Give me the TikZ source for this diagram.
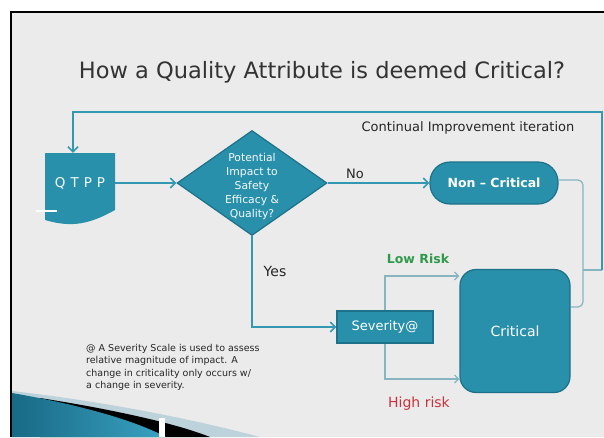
\documentclass[tikz,border=0pt]{standalone}
\usepackage{fontspec}
\setmainfont{DejaVu Sans}
\usetikzlibrary{shapes.geometric,arrows.meta,calc}
\pgfdeclarelayer{back}
\pgfdeclarelayer{wires}
\pgfsetlayers{back,wires,main}
\definecolor{bg}{HTML}{EBEBEB}
\definecolor{tealfill}{HTML}{2990AB}
\definecolor{tealedge}{HTML}{1D7189}
\definecolor{tealline}{HTML}{3398B2}
\definecolor{thinline}{HTML}{86B4C0}
\definecolor{lowgreen}{HTML}{2E9A4A}
\definecolor{highred}{HTML}{C8323C}
\definecolor{titlegray}{HTML}{333333}
\definecolor{swdark}{HTML}{186A85}
\definecolor{swmid}{HTML}{3AA2C2}
\definecolor{swlight}{HTML}{BCD3DC}
\begin{document}
\begin{tikzpicture}[x=1pt,y=-1pt,
  box/.style={fill=tealfill,draw=tealedge,line width=1.2pt,text=white},
  mainline/.style={draw=tealline,line width=2pt,-{Straight Barb[length=5pt,width=10pt,line width=1.6pt]}},
  thinarrow/.style={draw=thinline,line width=1.2pt,-{Straight Barb[length=4pt,width=8pt,line width=1.2pt]}},
  thin/.style={draw=thinline,line width=1.2pt},
  lbl/.style={text=black!85}
]
\useasboundingbox (0,0) rectangle (604,437);
\begin{pgfonlayer}{back}
\fill[white] (0,0) rectangle (604,437);
\fill[bg] (12,13) rectangle (604,437);
\draw[black,line width=2pt] (11,437) -- (11,12) -- (604,12);
% bottom-left swoosh
\fill[swlight] (12,391) .. controls (110,402) and (200,421) .. (260,437) -- (12,437) -- cycle;
\fill[black] (40,398) .. controls (110,409) and (175,423) .. (210,437) -- (40,437) -- cycle;
\shade[left color=swdark,right color=swmid]
  (12,393) .. controls (70,403) and (130,418) .. (166,437) -- (12,437) -- cycle;
\fill[white] (159,418) rectangle (165,437);
\end{pgfonlayer}

% title
\node[text=titlegray,font=\fontsize{22.5}{26}\selectfont] (title) at (322,72) {How a Quality Attribute is deemed Critical?};

% QTPP document shape
\fill[tealfill] (45,153) -- (115,153) -- (115,210) .. controls (90,224) and (72,228) .. (45,220) -- cycle;
\node[minimum width=70pt,minimum height=60pt,inner sep=0pt,text=white!95!tealfill,font=\fontsize{13.5}{16}\selectfont] (qtpp) at (80,183) {Q\hspace{5pt}T\hspace{5pt}P\hspace{5pt}P};
\draw[white,line width=1.5pt] (36,211) -- (57,211);

% diamond
\node[diamond,box,aspect=1.43,minimum width=150pt,minimum height=105pt,inner sep=0pt] (dec) at (252,183) {};
\node[align=center,text=white!95!tealfill,inner sep=0pt,font=\fontsize{10.8}{14}\selectfont] (dectext) at (252,187)
  {Potential\\Impact to\\Safety\\Efficacy \&\\Quality?};

% non-critical
\node[box,rounded corners=20pt,minimum width=128pt,minimum height=42pt,
  font=\bfseries\fontsize{12.5}{14}\selectfont] (nc) at (494,183) {Non -- Critical};

% severity
\node[box,minimum width=96pt,minimum height=32pt,inner sep=0pt,font=\fontsize{13}{15}\selectfont] (sev) at (385,327) {Severity@};

% critical
\node[box,rounded corners=16pt,minimum width=110pt,minimum height=123pt,font=\fontsize{14}{16}\selectfont] (crit) at (515,331) {Critical};

% labels
\node[lbl,font=\fontsize{13}{15}\selectfont] (nolbl) at (355,174) {No};
\node[lbl,font=\fontsize{14}{16}\selectfont] (yeslbl) at (275,271) {Yes};
\node[text=lowgreen,font=\bfseries\fontsize{12.5}{14}\selectfont] (low) at (418,259) {Low Risk};
\node[text=highred,font=\fontsize{14}{16}\selectfont] (high) at (419,404) {High risk};
\node[lbl,font=\fontsize{13}{15}\selectfont] (cont) at (468,128) {Continual Improvement iteration};
\node[anchor=north west,align=left,inner sep=0pt,text=black!85,font=\fontsize{9.5}{12.5}\selectfont] (note) at (86,344)
  {@ A Severity Scale is used to assess\\relative magnitude of impact. A\\change in criticality only occurs w/\\a change in severity.};

% connectors
\coordinate (J) at (602,270);
\coordinate (M) at (583,270);
\begin{pgfonlayer}{wires}
\draw[mainline] (qtpp.east) -- (dec.west);
\draw[mainline] (dec.east) -- (nc.west);
\draw[mainline] (dec.south) |- (sev.west);
\draw[thinarrow] (sev.center) |- ([yshift=-48pt]crit.west);
\draw[thinarrow] (sev.center) |- ([yshift=55pt]crit.west);
\draw[thin,rounded corners=5pt] ([yshift=3pt]nc.east) -| (M);
\draw[thin,rounded corners=5pt] ([yshift=24pt]crit.east) -| (M);
\draw[thin] (M) -- (J);
\draw[mainline] (J) -- (602,112) -| ([xshift=-7pt]qtpp.north);
\end{pgfonlayer}
\end{tikzpicture}
\end{document}
